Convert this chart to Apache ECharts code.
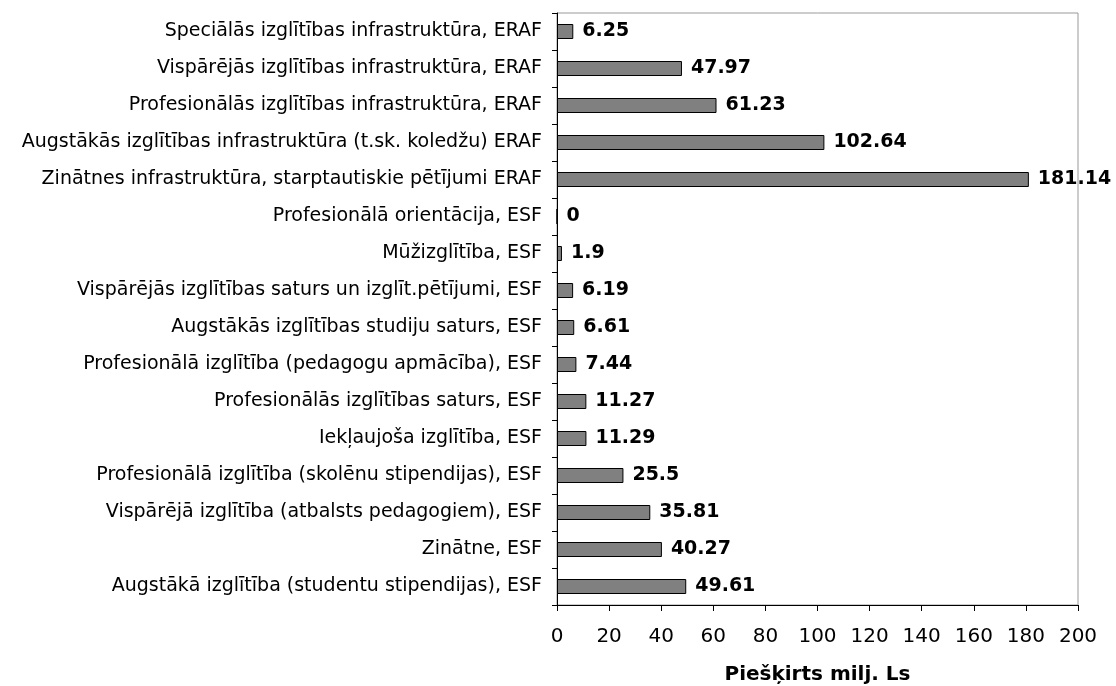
<!DOCTYPE html>
<html>
<head>
<meta charset="UTF-8">
<title></title>
<script src="https://cdn.jsdelivr.net/npm/echarts@6/dist/echarts.min.js"></script>
<style>
* { padding: 0; margin: 0; }
#main { width: 1116px; height: 686px; background: #fff; }
</style>
</head>
<body>
<div id="main"></div>
<script>
// categories listed bottom to top (category axis starts at the bottom)
var categories = [
  'Augstākā izglītība (studentu stipendijas), ESF',
  'Zinātne, ESF',
  'Vispārējā izglītība (atbalsts pedagogiem), ESF',
  'Profesionālā izglītība (skolēnu stipendijas), ESF',
  'Iekļaujoša izglītība, ESF',
  'Profesionālās izglītības saturs, ESF',
  'Profesionālā izglītība (pedagogu apmācība), ESF',
  'Augstākās izglītības studiju saturs, ESF',
  'Vispārējās izglītības saturs un izglīt.pētījumi, ESF',
  'Mūžizglītība, ESF',
  'Profesionālā orientācija, ESF',
  'Zinātnes infrastruktūra, starptautiskie pētījumi ERAF',
  'Augstākās izglītības infrastruktūra (t.sk. koledžu) ERAF',
  'Profesionālās izglītības infrastruktūra, ERAF',
  'Vispārējās izglītības infrastruktūra, ERAF',
  'Speciālās izglītības infrastruktūra, ERAF'
];
var values = [49.61, 40.27, 35.81, 25.5, 11.29, 11.27, 7.44, 6.61, 6.19, 1.9, 0, 181.14, 102.64, 61.23, 47.97, 6.25];
var axisTitle = 'Piešķirts milj. Ls';

var chart = echarts.init(document.getElementById('main'));
chart.setOption({
  animation: false,
  grid: {
    left: 557, right: 38, top: 13, bottom: 81,
    outerBoundsMode: 'none',
    show: true, borderColor: '#999', borderWidth: 1
  },
  xAxis: {
    type: 'value',
    min: 0, max: 200, interval: 20,
    name: axisTitle,
    nameLocation: 'middle',
    nameGap: 60,
    nameTextStyle: { fontFamily: 'DejaVu Sans', fontSize: 20, fontWeight: 'bold', color: '#000' },
    axisLine: { show: true, lineStyle: { color: '#000', width: 1 } },
    axisTick: { show: true, length: 6, lineStyle: { color: '#000' } },
    axisLabel: { fontFamily: 'DejaVu Sans', fontSize: 20, color: '#000', margin: 22 },
    splitLine: { show: false }
  },
  yAxis: {
    type: 'category',
    data: categories,
    axisLine: { show: true, lineStyle: { color: '#000', width: 1 } },
    axisTick: { show: true, length: 5, lineStyle: { color: '#000' } },
    axisLabel: { fontFamily: 'DejaVu Sans', fontSize: 19, color: '#000', margin: 15 }
  },
  series: [{
    type: 'bar',
    data: values,
    barWidth: 15,
    itemStyle: { color: '#808080', borderColor: '#000', borderWidth: 1 },
    label: {
      show: true,
      position: 'right',
      distance: 9,
      fontFamily: 'DejaVu Sans',
      fontSize: 19,
      fontWeight: 'bold',
      color: '#000'
    }
  }]
});
</script>
</body>
</html>
